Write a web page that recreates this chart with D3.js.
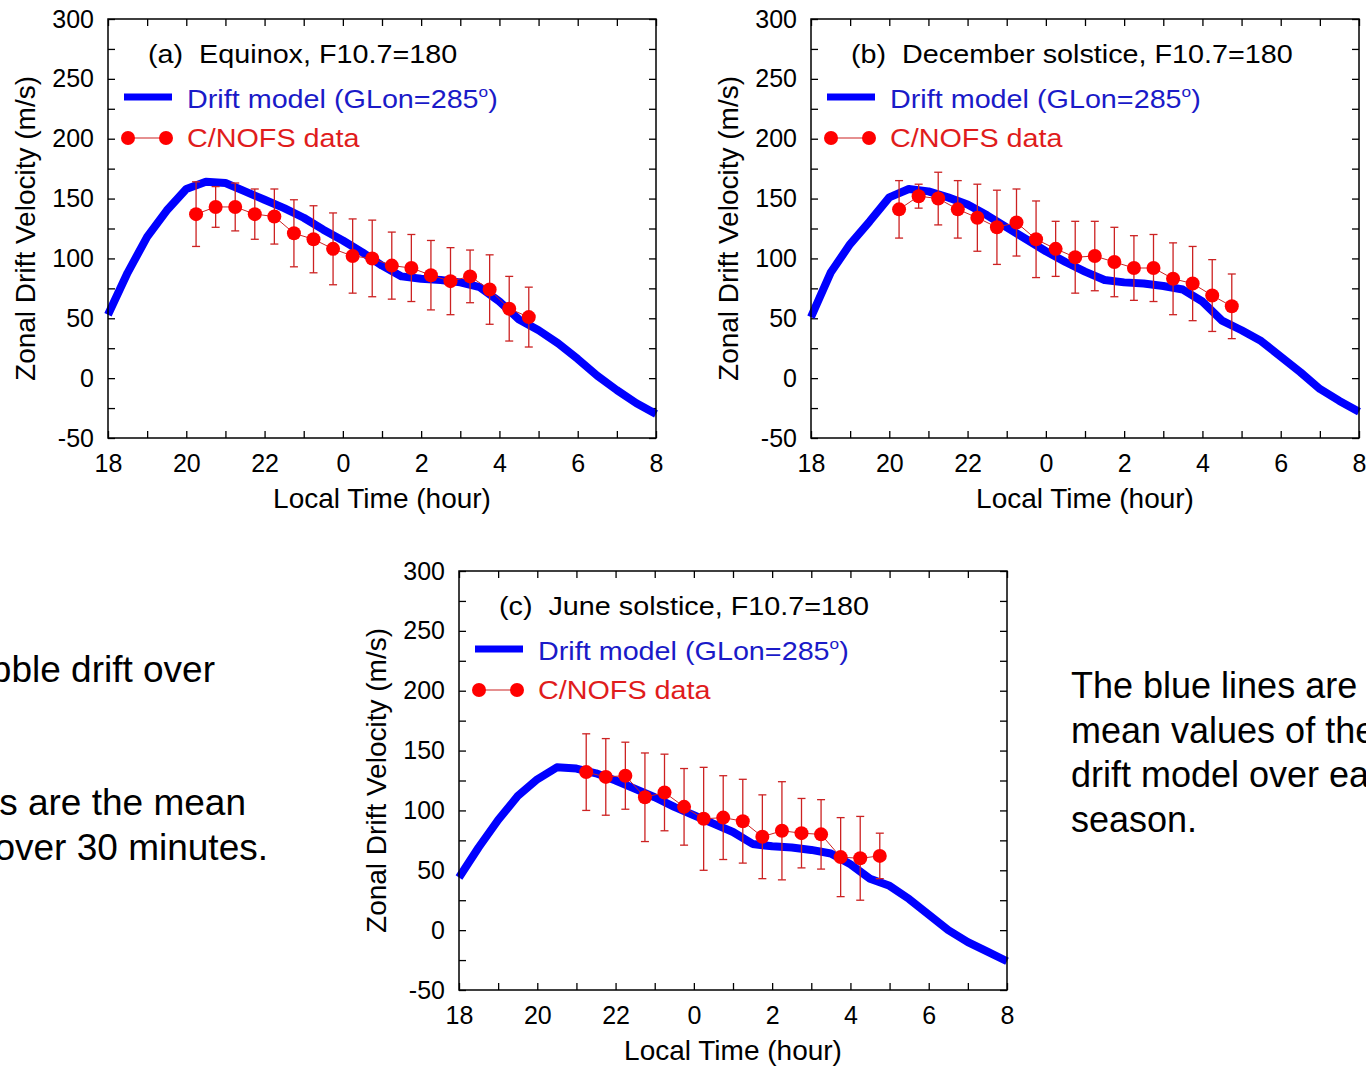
<!DOCTYPE html>
<html>
<head>
<meta charset="utf-8">
<script src="https://cdn.jsdelivr.net/npm/d3@7"></script>
<style>
  body { margin: 0; overflow: hidden; background: #fff; }
  svg { display: block; font-family: Arial, "Liberation Sans", sans-serif; }
</style>
</head>
<body>
<svg id="fig" width="1366" height="1066"></svg>
<script>
// local time in hours (past midnight counted as 24+)
const modelHours = [18, 18.5, 19, 19.5, 20, 20.5, 21, 21.5, 22, 22.5, 23, 23.5, 24, 24.5,
  25, 25.5, 26, 26.5, 27, 27.5, 28, 28.5, 29, 29.5, 30, 30.5, 31, 31.5, 32];

// drift model (GLon=285)
const modelEquinox = [53, 88, 118, 140, 158, 164, 163, 156, 149, 142, 134, 124, 115, 105,
  94, 85, 83, 82, 80, 76, 64, 49, 40, 29, 16, 2, -10, -21, -30];
const modelDecember = [51, 88, 112, 131, 151, 158, 156, 151, 145, 136, 126, 116, 106, 97,
  89, 82, 80, 79, 77, 74, 64, 48, 40, 31, 18, 5, -9, -19, -28];
const modelJune = [44, 69, 92, 112, 126, 136, 135, 131, 125, 118, 111, 103, 96, 89,
  82, 72, 70, 69, 67, 64, 55, 43, 37, 26, 13, 0, -10, -18, -26];

// C/NOFS data, 30 min means
const obsHoursAB = [20.25, 20.75, 21.25, 21.75, 22.25, 22.75, 23.25, 23.75, 24.25, 24.75,
  25.25, 25.75, 26.25, 26.75, 27.25, 27.75, 28.25, 28.75];
const obsHoursC = [21.25, 21.75, 22.25, 22.75, 23.25, 23.75, 24.25, 24.75,
  25.25, 25.75, 26.25, 26.75, 27.25, 27.75, 28.25, 28.75];

const obsEquinox = [137, 143, 143, 137, 135, 121, 116, 108, 102, 100, 94, 92, 86, 81, 85, 74, 58, 51];
const errEquinox = [27, 17, 20, 21, 23, 28, 28, 30, 31, 32, 28, 28, 29, 28, 22, 29, 27, 25];
const obsDecember = [141, 152, 150, 141, 134, 126, 130, 116, 108, 101, 102, 97, 92, 92, 83, 79, 69, 60];
const errDecember = [24, 10, 22, 24, 28, 31, 28, 32, 23, 30, 29, 29, 27, 28, 30, 31, 30, 27];
const obsJune = [132, 128, 129, 111, 115, 103, 93, 94, 91, 78, 83, 81, 80, 61, 60, 62];
const errJune = [32, 32, 28, 37, 32, 32, 43, 35, 35, 35, 41, 29, 29, 33, 35, 19];

const panelTags = ['(a)', '(b)', '(c)'];
const panelTitles = ['Equinox, F10.7=180', 'December solstice, F10.7=180', 'June solstice, F10.7=180'];

const leftNotes = [
  { text: 'bubble drift over', y: 682 },
  { text: 's are the mean', y: 815 },
  { text: 'over 30 minutes.', y: 860 }
];
const rightNotes = ['The blue lines are the', 'mean values of the', 'drift model over each', 'season.'];

const panels = [
  { model: modelEquinox, obsHours: obsHoursAB, obs: obsEquinox, err: errEquinox },
  { model: modelDecember, obsHours: obsHoursAB, obs: obsDecember, err: errDecember },
  { model: modelJune, obsHours: obsHoursC, obs: obsJune, err: errJune }
];
const panelPos = [[108, 19], [811, 19], [459, 571]];

const W = 548, H = 419;
const svg = d3.select('#fig');

const x = d3.scaleLinear().domain([18, 32]).range([0, W]);
const y = d3.scaleLinear().domain([-50, 300]).range([H, 0]);

const blue = '#0000ff', red = '#ff0000', darkRed = '#cc2222';

function drawPanel(p, i) {
  const [px, py] = panelPos[i];
  const g = svg.append('g').attr('transform', `translate(${px},${py})`);

  // axes, ticks point inward
  const xb = d3.axisBottom(x).tickValues(d3.range(18, 33, 1)).tickSize(-7).tickSizeOuter(0)
    .tickPadding(16).tickFormat((d) => (d % 2 === 0 ? d % 24 : ''));
  const xt = d3.axisTop(x).tickValues(d3.range(18, 33, 1)).tickSize(-7).tickSizeOuter(0).tickFormat('');
  const yl = d3.axisLeft(y).tickValues(d3.range(-50, 301, 25)).tickSize(-7).tickSizeOuter(0)
    .tickPadding(14).tickFormat((d) => (d % 50 === 0 ? d : ''));
  const yr = d3.axisRight(y).tickValues(d3.range(-50, 301, 25)).tickSize(-7).tickSizeOuter(0).tickFormat('');

  g.append('g').attr('transform', `translate(0,${H})`).call(xb);
  g.append('g').call(xt);
  g.append('g').call(yl);
  g.append('g').attr('transform', `translate(${W},0)`).call(yr);
  g.selectAll('.domain').remove();
  g.selectAll('.tick line').attr('stroke', '#000').attr('stroke-width', 1.3);
  g.selectAll('.tick text').attr('font-size', 25).attr('fill', '#000')
    .attr('font-family', 'Arial, "Liberation Sans", sans-serif');

  // model curve
  const line = d3.line().x((d) => x(d[0])).y((d) => y(d[1]));
  g.append('path')
    .datum(modelHours.map((h, k) => [h, p.model[k]]))
    .attr('d', line)
    .attr('fill', 'none')
    .attr('stroke', blue)
    .attr('stroke-width', 8)
    .attr('stroke-linejoin', 'round');

  // data
  const obs = p.obsHours.map((h, k) => ({ h: h, v: p.obs[k], e: p.err[k] }));
  g.append('path')
    .datum(obs.map((d) => [d.h, d.v]))
    .attr('d', line)
    .attr('fill', 'none')
    .attr('stroke', darkRed)
    .attr('stroke-width', 1);

  const eb = g.append('g').attr('stroke', darkRed).attr('stroke-width', 1.3);
  eb.selectAll('.bar').data(obs).join('line')
    .attr('x1', (d) => x(d.h)).attr('x2', (d) => x(d.h))
    .attr('y1', (d) => y(d.v - d.e)).attr('y2', (d) => y(d.v + d.e));
  eb.selectAll('.capT').data(obs).join('line')
    .attr('x1', (d) => x(d.h) - 4).attr('x2', (d) => x(d.h) + 4)
    .attr('y1', (d) => y(d.v + d.e)).attr('y2', (d) => y(d.v + d.e));
  eb.selectAll('.capB').data(obs).join('line')
    .attr('x1', (d) => x(d.h) - 4).attr('x2', (d) => x(d.h) + 4)
    .attr('y1', (d) => y(d.v - d.e)).attr('y2', (d) => y(d.v - d.e));

  g.selectAll('.pt').data(obs).join('circle')
    .attr('cx', (d) => x(d.h)).attr('cy', (d) => y(d.v)).attr('r', 7)
    .attr('fill', red);

  // frame
  g.append('rect').attr('width', W).attr('height', H)
    .attr('fill', 'none').attr('stroke', '#000').attr('stroke-width', 1.5);

  // axis titles
  g.append('text')
    .attr('x', W / 2).attr('y', H + 70)
    .attr('text-anchor', 'middle').attr('font-size', 28)
    .text('Local Time (hour)');
  g.append('text')
    .attr('transform', `translate(-73,${H / 2}) rotate(-90)`)
    .attr('text-anchor', 'middle').attr('font-size', 28)
    .text('Zonal Drift Velocity (m/s)');

  // legend (text in the figure is a bit wide, so stretch it)
  g.append('text')
    .attr('transform', 'translate(40,44) scale(1.15,1)')
    .attr('font-size', 25).style('white-space', 'pre')
    .text(panelTags[i] + '  ' + panelTitles[i]);

  g.append('line').attr('x1', 16).attr('x2', 64).attr('y1', 78).attr('y2', 78)
    .attr('stroke', blue).attr('stroke-width', 7);
  const t = g.append('text')
    .attr('transform', 'translate(79,89) scale(1.15,1)')
    .attr('font-size', 25).attr('fill', '#1a1ac8');
  t.append('tspan').text('Drift model (GLon=285');
  t.append('tspan').attr('font-size', 15).attr('dy', -11).text('o');
  t.append('tspan').attr('dy', 11).text(')');

  g.append('line').attr('x1', 20).attr('x2', 58).attr('y1', 119).attr('y2', 119)
    .attr('stroke', darkRed).attr('stroke-width', 1.2);
  g.selectAll('.lgpt').data([20, 58]).join('circle')
    .attr('cx', (d) => d).attr('cy', 119).attr('r', 7).attr('fill', red);
  g.append('text')
    .attr('transform', 'translate(79,128) scale(1.15,1)')
    .attr('font-size', 25).attr('fill', '#e01c1c')
    .text('C/NOFS data');
}

panels.forEach(drawPanel);

// slide text around the figure (cut by the page edges like the original slide)
svg.selectAll('.lnote').data(leftNotes).join('text')
  .attr('x', (d, k) => [215, 246, 268][k]).attr('y', (d) => d.y)
  .attr('text-anchor', 'end').attr('font-size', 37)
  .text((d) => d.text);

svg.selectAll('.rnote').data(rightNotes).join('text')
  .attr('x', 1071).attr('y', (d, k) => 698 + k * 44.7)
  .attr('font-size', 36)
  .text((d) => d);
</script>
</body>
</html>
